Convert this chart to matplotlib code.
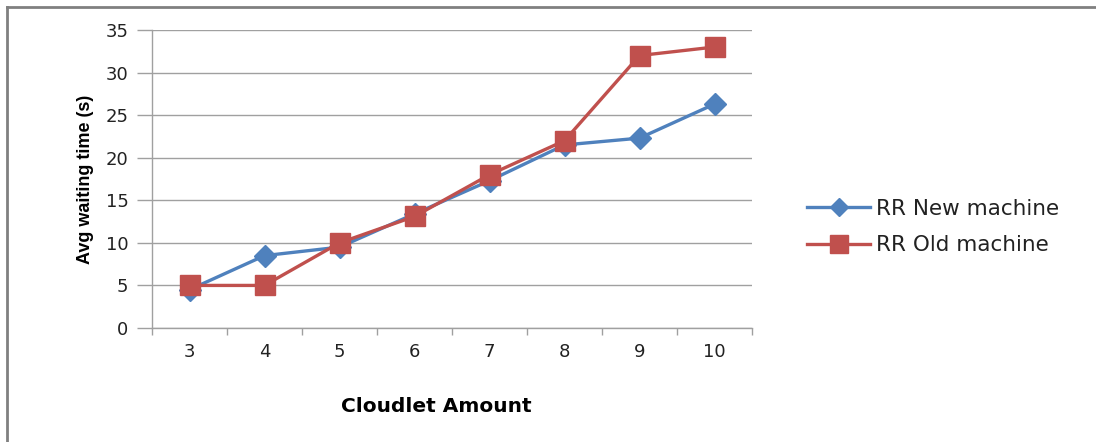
import matplotlib
matplotlib.use('Agg')
import matplotlib.pyplot as plt
import numpy as np
from matplotlib.lines import Line2D

# cloudlet counts and average waiting times (s)
cloudlets = ['3', '4', '5', '6', '7', '8', '9', '10']
rr_new = [4.5, 8.5, 9.5, 13.4, 17.3, 21.5, 22.3, 26.3]
rr_old = [5, 5, 10, 13.1, 18, 22, 32, 33]
y_ticks = [0, 5, 10, 15, 20, 25, 30, 35]

BLUE = '#4F81BD'
RED = '#C0504D'
GRID = '#A0A0A0'

fig = plt.figure(figsize=(10.96, 4.42), dpi=100)
ax = fig.add_axes([152 / 1096, 1 - 328 / 442, 600 / 1096, 298 / 442])

x = np.arange(len(cloudlets))
ax.plot(x, rr_new, color=BLUE, lw=2.4, marker='D', ms=11,
        label='RR New machine', zorder=3)
ax.plot(x, rr_old, color=RED, lw=2.4, marker='s', ms=15,
        label='RR Old machine', zorder=4)

ax.set_xlim(-0.5, len(cloudlets) - 0.5)
ax.set_ylim(0, 35)
ax.set_yticks(y_ticks)
ax.set_yticklabels([str(v) for v in y_ticks], fontsize=13, family='DejaVu Sans',
                   color='#222222')
ax.set_xticks(x)
ax.set_xticklabels(cloudlets, fontsize=13, family='DejaVu Sans', color='#222222')
ax.set_xticks(np.arange(-0.5, len(cloudlets)), minor=True)
ax.tick_params(axis='x', which='major', length=0, pad=11)
ax.tick_params(axis='x', which='minor', length=5, color=GRID, width=1)
ax.tick_params(axis='y', length=11, color=GRID, width=1, pad=6)

ax.yaxis.grid(True, color=GRID, lw=1)
ax.set_axisbelow(True)
for side in ('top', 'right'):
    ax.spines[side].set_visible(False)
for side in ('left', 'bottom'):
    ax.spines[side].set_color(GRID)
    ax.spines[side].set_linewidth(1)

ax.set_ylabel('Avg waiting time (s)', fontsize=13, fontweight='bold',
              family='Liberation Sans', labelpad=8, fontstretch='condensed')
fig.text(436 / 1096, 1 - 406 / 442, 'Cloudlet Amount', ha='center',
         va='center', fontsize=14.5, fontweight='bold', family='DejaVu Sans')

leg = ax.legend(loc='center left', bbox_to_anchor=(788 / 1096, 1 - 227 / 442),
                bbox_transform=fig.transFigure, frameon=False, fontsize=15.5,
                handlelength=2.9, handletextpad=0.3, labelspacing=0.75,
                markerscale=0.85)
for t in leg.get_texts():
    t.set_family('DejaVu Sans')
    t.set_color('#222222')

# outer chart frame (top and left edges)
fig.add_artist(Line2D([7 / 1096, 1], [1 - 7 / 442, 1 - 7 / 442],
                      transform=fig.transFigure, color='#808080', lw=2))
fig.add_artist(Line2D([7 / 1096, 7 / 1096], [0, 1 - 7 / 442],
                      transform=fig.transFigure, color='#808080', lw=2))

fig.savefig('out.png', dpi=100)
